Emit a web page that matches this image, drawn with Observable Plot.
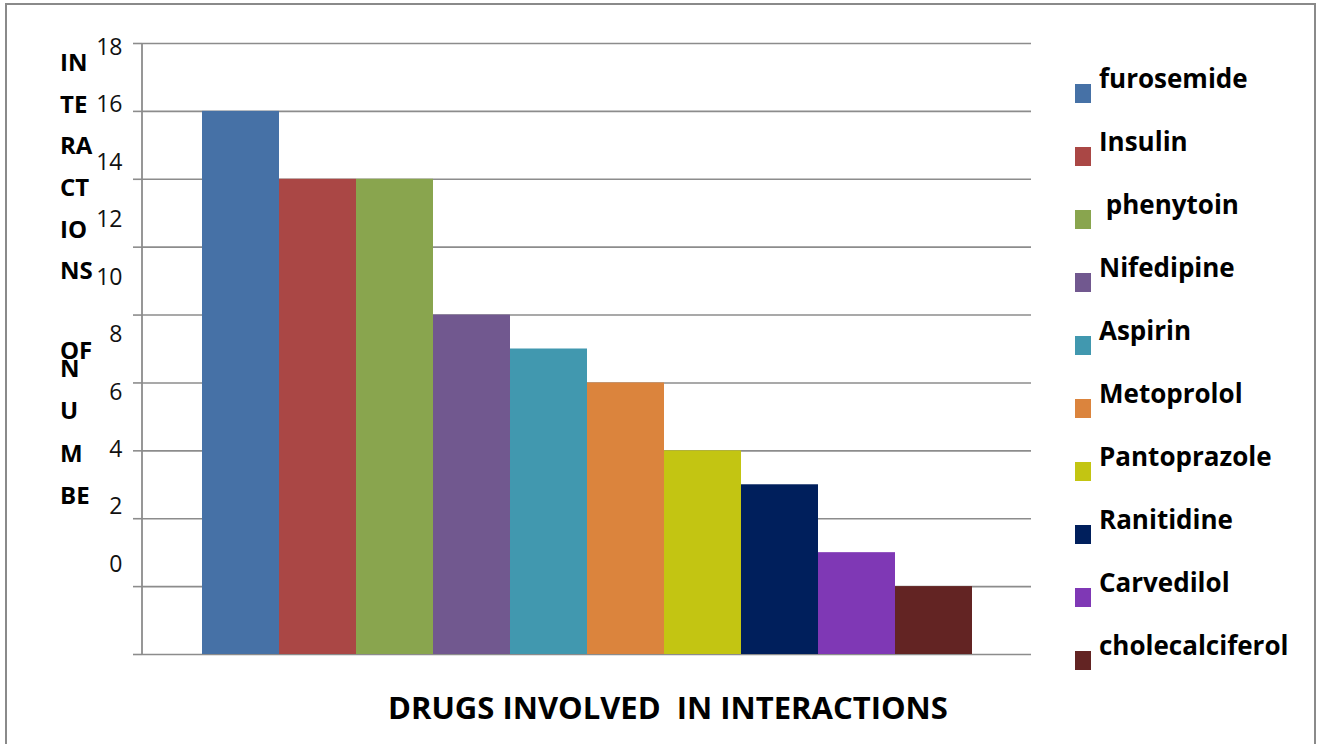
<!DOCTYPE html>
<html>
<head>
<meta charset="utf-8">
<script src="https://cdn.jsdelivr.net/npm/d3@7"></script>
<script src="https://cdn.jsdelivr.net/npm/@observablehq/plot@0.6"></script>
<style>
  body { margin: 0; background: #fff; }
  #chart { position: relative; width: 1317px; height: 744px; overflow: hidden; font-family: "Open Sans", sans-serif; color: #000; }
  #chart svg { position: absolute; left: 0; top: 0; }
  #border { position: absolute; left: 5px; top: 3px; width: 1311px; height: 780px; border: 2px solid #8a8a8a; box-sizing: border-box; }
  .ytitle { position: absolute; left: 60px; font-weight: 700; font-size: 24px; line-height: 41.6px; white-space: pre; }
  #xtitle { position: absolute; left: 388px; top: 686px; font-weight: 700; font-size: 31px; line-height: 42px; white-space: pre; }
  .swatch { position: absolute; left: 1075px; width: 16px; height: 19px; }
  .leglabel { position: absolute; left: 1099px; font-weight: 700; font-size: 26px; line-height: 34px; white-space: pre; }
</style>
</head>
<body>
<div id="chart"></div>
<script>
// Number of interactions per drug
const drugs = ["furosemide", "Insulin", " phenytoin", "Nifedipine", "Aspirin", "Metoprolol", "Pantoprazole", "Ranitidine", "Carvedilol", "cholecalciferol"];
const interactions = [16, 14, 14, 10, 9, 8, 6, 5, 3, 2];
const yTicks = [0, 2, 4, 6, 8, 10, 12, 14, 16, 18];
const palette = ["#4671a6", "#aa4745", "#89a54e", "#71588f", "#4198af", "#db843d", "#c3c512", "#001f5c", "#7f38b5", "#632423"];

const xTitle = "DRUGS INVOLVED  IN INTERACTIONS";
// the vertical axis title as it is broken into lines
const yTitleTop = ["IN", "TE", "RA", "CT", "IO", "NS"];
const yTitleMid = ["OF"];
const yTitleLow = ["N", "U", "M", "BE"];

const table = drugs.map((d, i) => ({drug: d, count: interactions[i]}));

// tick labels sit on a compressed scale, from just above the 2-line up to the top line
const labelPos = d3.scaleLinear().domain([0, 18]).range([2.65, 17.88]);

const gray = "#8c8c8c";

const chart = Plot.plot({
  width: 1317,
  height: 744,
  marginLeft: 142,
  marginRight: 286,
  marginTop: 43,
  marginBottom: 90,
  style: {background: "transparent", fontFamily: "'Open Sans', sans-serif"},
  x: {domain: drugs, paddingInner: 0, paddingOuter: 0.74, axis: null},
  y: {domain: [0, 18], axis: null},
  color: {domain: drugs, range: palette},
  marks: [
    Plot.gridY(yTicks, {stroke: gray, strokeOpacity: 1, strokeWidth: 1.6}),
    Plot.axisY(yTicks, {tickSize: 9, tickFormat: () => "", stroke: gray, strokeWidth: 1.6, label: null}),
    // vertical axis line on the left edge of the frame
    (index, scales, values, dims) => {
      const line = document.createElementNS("http://www.w3.org/2000/svg", "line");
      const x = dims.marginLeft;
      line.setAttribute("x1", x); line.setAttribute("x2", x);
      line.setAttribute("y1", scales.y(18)); line.setAttribute("y2", scales.y(0));
      line.setAttribute("stroke", gray); line.setAttribute("stroke-width", 1.8);
      return line;
    },
    Plot.barY(table, {x: "drug", y: "count", fill: "drug"}),
    Plot.text(yTicks, {
      y: (d) => labelPos(d), text: (d) => String(d),
      frameAnchor: "left", textAnchor: "end", dx: -20,
      fontSize: 23, fill: "#111"
    })
  ]
});

const root = document.getElementById("chart");
root.appendChild(chart);

const border = document.createElement("div");
border.id = "border";
root.appendChild(border);

function addLines(lines, top, lh) {
  const el = document.createElement("div");
  el.className = "ytitle";
  el.style.top = top + "px";
  if (lh) el.style.lineHeight = lh + "px";
  el.textContent = lines.join("\n");
  root.appendChild(el);
}
addLines(yTitleTop, 41.2);
addLines(yTitleMid, 329);
addLines(yTitleLow, 347, 42.3);

const xt = document.createElement("div");
xt.id = "xtitle";
xt.textContent = xTitle;
root.appendChild(xt);

// legend: one swatch per drug, label set slightly above its swatch
drugs.forEach((d, i) => {
  const cy = 93 + 63 * i;
  const sw = document.createElement("div");
  sw.className = "swatch";
  sw.style.top = (cy - 9.5) + "px";
  sw.style.background = palette[i];
  root.appendChild(sw);
  const lb = document.createElement("div");
  lb.className = "leglabel";
  lb.style.top = (cy - 15 - 17) + "px";
  lb.textContent = d;
  root.appendChild(lb);
});
</script>
</body>
</html>
